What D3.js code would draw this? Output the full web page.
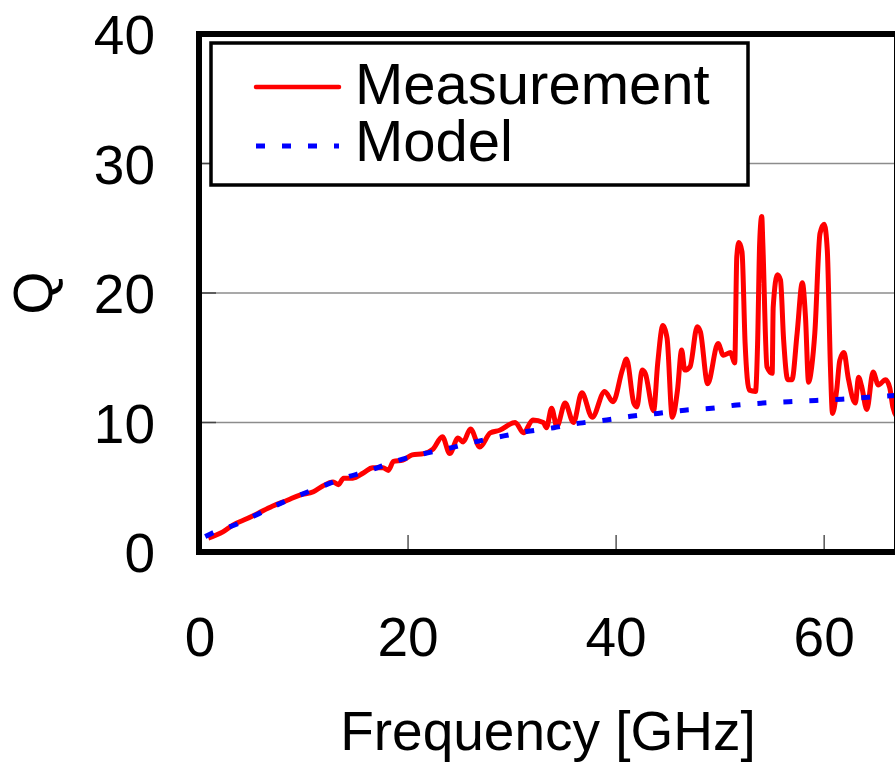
<!DOCTYPE html>
<html>
<head>
<meta charset="utf-8">
<script src="https://cdn.jsdelivr.net/npm/d3@7"></script>
<style>
  body { margin: 0; background: #fff; }
  text { font-family: "Liberation Sans", Arial, sans-serif; fill: #000; }
</style>
</head>
<body>
<svg id="chart" width="895" height="763"></svg>
<script>
// values
var measFreq = [0.8, 2.2, 3.2, 4.6, 5.6, 7.0, 8.4, 9.6, 10.9, 11.8, 12.8, 13.3, 13.8, 14.7, 15.7, 16.6, 17.6, 18.1, 18.6, 19.5,
  20.4, 21.5, 22.4, 23.3, 24.0, 24.8, 25.3, 26.0, 26.9, 27.9, 28.8, 30.3, 31.1, 32.0, 33.0, 33.3, 33.8, 34.3, 35.1, 35.9,
  36.7, 37.7, 38.9, 39.7, 40.6, 41.0, 41.7, 42.0, 42.5, 42.8, 43.6, 44.0, 44.5, 44.9, 45.4, 45.9, 46.3, 46.6, 47.1, 47.8,
  48.1, 48.8, 49.8, 50.3, 51.0, 51.4, 51.6, 51.8, 52.1, 52.4, 52.8, 53.4, 53.6, 53.8, 54.0, 54.1, 54.5, 55.0, 55.1, 55.5,
  55.8, 56.1, 56.5, 56.9, 57.4, 57.9, 58.2, 58.5, 58.8, 59.1, 59.6, 60.0, 60.3, 60.6, 60.8, 61.2, 61.5, 61.9, 62.3, 63.0,
  63.3, 63.6, 64.1, 64.7, 65.2, 65.9, 66.3, 66.6, 67.0];
var measQ = [1.08, 1.55, 2.1, 2.6, 3.0, 3.55, 4.0, 4.4, 4.65, 5.1, 5.4, 5.2, 5.7, 5.7, 6.1, 6.5, 6.5, 6.3, 7.0, 7.1,
  7.5, 7.6, 7.95, 8.9, 7.6, 8.8, 8.5, 9.5, 8.1, 9.2, 9.4, 10.0, 9.2, 10.2, 10.0, 9.6, 11.1, 9.7, 11.5, 10.0,
  12.3, 10.4, 12.4, 11.6, 14.05, 14.9, 11.5, 11.2, 14.05, 13.8, 10.9, 14.6, 17.5, 16.5, 10.4, 12.5, 15.6, 14.05, 14.3, 17.4,
  17.0, 13.0, 16.1, 15.2, 15.4, 14.6, 22.8, 23.9, 23.2, 16.1, 12.5, 12.4, 16.1, 23.9, 25.9, 23.9, 14.3, 13.8, 18.9, 21.4,
  21.0, 16.4, 13.3, 13.3, 16.9, 20.8, 18.2, 13.1, 14.3, 16.9, 24.6, 25.3, 23.3, 14.3, 10.7, 12.5, 14.8, 15.4, 13.5, 11.5,
  13.5, 12.8, 11.0, 13.9, 12.9, 13.3, 12.7, 11.2, 10.4];

var modelFreq = [0.5, 1.2, 3.7, 6.25, 8.7, 11.2, 13.8, 16.3, 18.75, 21.3, 23.9, 26.4, 28.8, 31.4, 34.0, 36.5, 39.1,
  41.6, 44.0, 46.6, 49.2, 51.6, 54.1, 56.6, 59.2, 61.7, 64.2, 67.0];
var modelQ = [1.2, 1.47, 2.2, 3.2, 4.1, 4.9, 5.7, 6.3, 7.0, 7.55, 8.0, 8.5, 8.9, 9.3, 9.6, 9.95, 10.2,
  10.5, 10.7, 10.95, 11.1, 11.35, 11.5, 11.6, 11.7, 11.8, 11.95, 12.1];

var xTicks = [0, 20, 40, 60];
var yTicks = [0, 10, 20, 30, 40];
var seriesNames = ["Measurement", "Model"];

var svg = d3.select("#chart");
var plotL = 200, plotR = 897, plotT = 34, plotB = 552;

var x = d3.scaleLinear().domain([0, 67]).range([plotL, plotR]);
var y = d3.scaleLinear().domain([0, 40]).range([plotB, plotT]);

svg.append("rect").attr("width", 895).attr("height", 763).attr("fill", "#fff");

svg.append("clipPath").attr("id", "clip")
   .append("rect").attr("x", plotL).attr("y", plotT).attr("width", plotR - plotL).attr("height", plotB - plotT);

// gridlines
svg.selectAll(".grid")
   .data([10, 20, 30])
   .enter()
   .append("line")
   .attr("x1", plotL).attr("x2", plotR)
   .attr("y1", function(d){ return y(d); })
   .attr("y2", function(d){ return y(d); })
   .attr("stroke", "#8c8c8c")
   .attr("stroke-width", 1.5);

// ticks inside the frame
svg.selectAll(".xt")
   .data([20, 40, 60])
   .enter()
   .append("line")
   .attr("x1", function(d){ return x(d); })
   .attr("x2", function(d){ return x(d); })
   .attr("y1", plotB).attr("y2", plotB - 17)
   .attr("stroke", "#555").attr("stroke-width", 1.5);

svg.selectAll(".yt")
   .data([10, 20, 30])
   .enter()
   .append("line")
   .attr("x1", plotL).attr("x2", plotL + 16)
   .attr("y1", function(d){ return y(d); })
   .attr("y2", function(d){ return y(d); })
   .attr("stroke", "#444").attr("stroke-width", 1.5);

// lines
var meas = measFreq.map(function(f, i){ return [f, measQ[i]]; });
var model = modelFreq.map(function(f, i){ return [f, modelQ[i]]; });

var line = d3.line()
   .x(function(d){ return x(d[0]); })
   .y(function(d){ return y(d[1]); })
   .curve(d3.curveMonotoneX);

var plot = svg.append("g").attr("clip-path", "url(#clip)");

plot.append("path")
   .datum(meas)
   .attr("d", line)
   .attr("fill", "none")
   .attr("stroke", "#ff0000")
   .attr("stroke-width", 5)
   .attr("stroke-linejoin", "round");

plot.append("path")
   .datum(model)
   .attr("d", line)
   .attr("fill", "none")
   .attr("stroke", "#0000ff")
   .attr("stroke-width", 5)
   .attr("stroke-dasharray", "9,17");

// frame
svg.append("rect")
   .attr("x", plotL - 1).attr("y", plotT)
   .attr("width", plotR - plotL + 1).attr("height", plotB - plotT)
   .attr("fill", "none")
   .attr("stroke", "#000")
   .attr("stroke-width", 6);

// tick labels
svg.selectAll(".yl")
   .data(yTicks)
   .enter()
   .append("text")
   .attr("x", 155)
   .attr("y", function(d){ return y(d) + 20; })
   .attr("text-anchor", "end")
   .attr("font-size", 55)
   .text(function(d){ return d; });

svg.selectAll(".xl")
   .data(xTicks)
   .enter()
   .append("text")
   .attr("x", function(d){ return x(d); })
   .attr("y", 656)
   .attr("text-anchor", "middle")
   .attr("font-size", 55)
   .text(function(d){ return d; });

svg.append("text")
   .attr("transform", "translate(52," + 293 + ")rotate(-90)")
   .attr("text-anchor", "middle")
   .attr("font-size", 55)
   .text("Q");

svg.append("text")
   .attr("x", 548).attr("y", 750)
   .attr("text-anchor", "middle")
   .attr("font-size", 55)
   .text("Frequency [GHz]");

// legend
var legend = svg.append("g");
legend.append("rect")
   .attr("x", 211).attr("y", 43)
   .attr("width", 537).attr("height", 142)
   .attr("fill", "#fff")
   .attr("stroke", "#000")
   .attr("stroke-width", 3.5);

legend.append("line")
   .attr("x1", 256).attr("x2", 339).attr("y1", 87).attr("y2", 87)
   .attr("stroke", "#ff0000").attr("stroke-width", 4.5).attr("stroke-linecap", "round");
legend.append("line")
   .attr("x1", 256).attr("x2", 339).attr("y1", 146).attr("y2", 146)
   .attr("stroke", "#0000ff").attr("stroke-width", 5).attr("stroke-dasharray", "9,17");

legend.selectAll(".lt")
   .data(seriesNames)
   .enter()
   .append("text")
   .attr("x", 355)
   .attr("y", function(d, i){ return 104 + i * 57; })
   .attr("font-size", 58)
   .text(function(d){ return d; });
</script>
</body>
</html>
